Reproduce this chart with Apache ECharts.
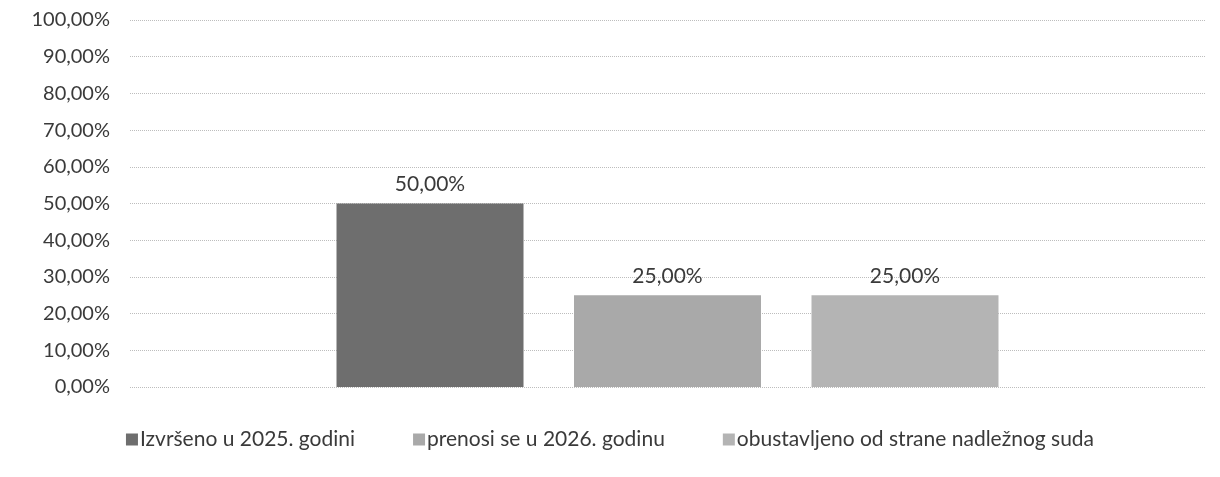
<!DOCTYPE html>
<html>
<head>
<meta charset="utf-8">
<script src="https://cdn.jsdelivr.net/npm/echarts@6/dist/echarts.min.js"></script>
<style>
  html, body { margin: 0; padding: 0; background: #fff; }
  #chart { width: 1220px; height: 477px; }
</style>
</head>
<body>
<div id="chart"></div>
<script>
  // one category, three series (Excel clustered column)
  var categories = [''];
  var seriesNames = [
    'Izvršeno u 2025. godini',
    'prenosi se u 2026. godinu',
    'obustavljeno od strane nadležnog suda'
  ];
  var seriesValues = [50, 25, 25];
  var seriesColors = ['#6e6e6e', '#a9a9a9', '#b4b4b4'];

  var fontFamily = 'Lato, "Noto Sans", sans-serif';

  function pct(v) {
    return v.toFixed(2).replace('.', ',') + '%';
  }

  var chart = echarts.init(document.getElementById('chart'));

  var series = seriesNames.map(function (name, i) {
    return {
      name: name,
      type: 'bar',
      data: [seriesValues[i]],
      barWidth: 187,
      barGap: '27%',
      itemStyle: { color: seriesColors[i] },
      label: {
        show: true,
        position: 'top',
        distance: 9,
        formatter: function (p) { return pct(p.value); },
        color: '#3a3a3a',
        fontSize: 21,
        fontFamily: fontFamily
      }
    };
  });

  chart.setOption({
    backgroundColor: '#fff',
    animation: false,
    grid: { left: 130, right: 15, top: 20, bottom: 90 },
    legend: {
      bottom: 22,
      left: 'center',
      itemWidth: 12,
      itemHeight: 12,
      itemGap: 58,
      itemStyle: { borderWidth: 0 },
      icon: 'rect',
      textStyle: { color: '#3a3a3a', fontSize: 21, fontFamily: fontFamily, padding: [0, 0, 0, -3] },
      data: seriesNames
    },
    xAxis: {
      type: 'category',
      data: categories,
      axisLine: { show: false },
      axisTick: { show: false },
      axisLabel: { show: false }
    },
    yAxis: {
      type: 'value',
      min: 0,
      max: 100,
      interval: 10,
      axisLine: { show: false },
      axisTick: { show: false },
      axisLabel: {
        formatter: pct,
        color: '#3a3a3a',
        fontSize: 20,
        fontFamily: fontFamily,
        margin: 20
      },
      splitLine: { lineStyle: { color: '#bdbdbd', type: 'dotted', width: 1 } }
    },
    series: series
  });
</script>
</body>
</html>
